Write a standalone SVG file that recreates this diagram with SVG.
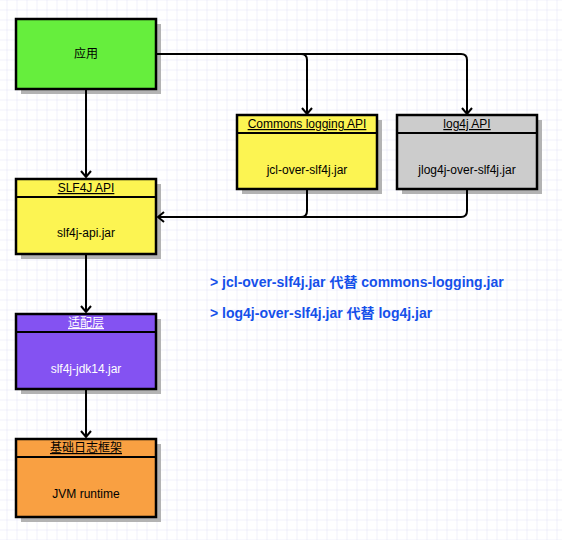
<svg xmlns="http://www.w3.org/2000/svg" width="562" height="540" viewBox="0 0 562 540">
<defs>
<pattern id="grid" x="6.5" y="9.5" width="10" height="10" patternUnits="userSpaceOnUse">
<path d="M0,0 H10 M0,0 V10" stroke="#e2e2f6" stroke-width="1" fill="none"/>
</pattern>
<marker id="arr" viewBox="-8 -6 10 12" markerWidth="10" markerHeight="12" refX="0" refY="0" orient="auto" markerUnits="userSpaceOnUse">
<path d="M-6,-5 L0,0 L-6,5" fill="none" stroke="#000" stroke-width="2"/>
</marker>
</defs>
<style>
.box{stroke:#000;stroke-width:2.5}
.shadow{fill:#b3b3b3}
.t{font-family:"Liberation Sans","Noto Sans CJK SC",sans-serif;font-size:12px;text-anchor:middle;fill:#000}
.h{text-decoration:underline}
.w{fill:#fff}
.c{fill:none;stroke:#000;stroke-width:2}
.note{font-family:"Liberation Sans","Noto Sans CJK SC",sans-serif;font-size:14px;font-weight:bold;fill:#1550ea}
</style>
<rect width="562" height="540" fill="#fff"/>
<rect width="562" height="540" fill="url(#grid)"/>

<g id="app">
<rect class="shadow" x="21" y="24" width="140" height="70"/>
<rect class="box" x="16" y="19" width="140" height="70" fill="#66ee3d"/>
<text class="t" x="86" y="58">应用</text>
</g>

<g id="slf4j">
<rect class="shadow" x="21" y="184" width="140" height="75"/>
<rect class="box" x="16" y="179" width="140" height="75" fill="#fcf452"/>
<line x1="16" y1="197" x2="156" y2="197" stroke="#000" stroke-width="2"/>
<text class="t h" x="86" y="192">SLF4J API</text>
<text class="t" x="86" y="237">slf4j-api.jar</text>
</g>

<g id="commons">
<rect class="shadow" x="242" y="120" width="140" height="74"/>
<rect class="box" x="237" y="115" width="140" height="74" fill="#fcf452"/>
<line x1="237" y1="133" x2="377" y2="133" stroke="#000" stroke-width="2"/>
<text class="t h" x="307" y="128">Commons logging API</text>
<text class="t" x="307" y="174">jcl-over-slf4j.jar</text>
</g>

<g id="log4j">
<rect class="shadow" x="402" y="120" width="140" height="74"/>
<rect class="box" x="397" y="115" width="140" height="74" fill="#cccccc"/>
<line x1="397" y1="133" x2="537" y2="133" stroke="#000" stroke-width="2"/>
<text class="t h" x="467" y="128">log4j API</text>
<text class="t" x="467" y="174">jlog4j-over-slf4j.jar</text>
</g>

<g id="adapter">
<rect class="shadow" x="21" y="319" width="140" height="75"/>
<rect class="box" x="16" y="314" width="140" height="75" fill="#8452f2"/>
<line x1="16" y1="332" x2="156" y2="332" stroke="#000" stroke-width="2"/>
<text class="t h w" x="86" y="327">适配层</text>
<text class="t w" x="86" y="373">slf4j-jdk14.jar</text>
</g>

<g id="base">
<rect class="shadow" x="21" y="444" width="140" height="78"/>
<rect class="box" x="16" y="439" width="140" height="78" fill="#f9a042"/>
<line x1="16" y1="457" x2="156" y2="457" stroke="#000" stroke-width="2"/>
<text class="t h" x="86" y="452">基础日志框架</text>
<text class="t" x="86" y="498">JVM runtime</text>
</g>

<g id="connectors">
<path class="c" d="M86,89 V177" marker-end="url(#arr)"/>
<path class="c" d="M156,54 H301 Q307,54 307,60 V114" marker-end="url(#arr)"/>
<path class="c" d="M156,54 H461 Q467,54 467,60 V114" marker-end="url(#arr)"/>
<path class="c" d="M307,189 V211 Q307,217 301,217 H158" marker-end="url(#arr)"/>
<path class="c" d="M467,189 V211 Q467,217 461,217 H300"/>
<path class="c" d="M86,254 V312" marker-end="url(#arr)"/>
<path class="c" d="M86,389 V437" marker-end="url(#arr)"/>
</g>

<g id="notes">
<text class="note" x="210" y="287">&gt; jcl-over-slf4j.jar 代替 commons-logging.jar</text>
<text class="note" x="210" y="318">&gt; log4j-over-slf4j.jar 代替 log4j.jar</text>
</g>
</svg>
